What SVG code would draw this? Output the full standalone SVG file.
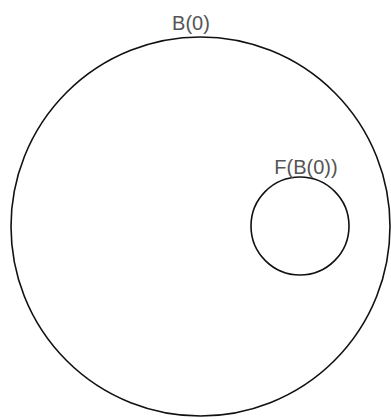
<svg xmlns="http://www.w3.org/2000/svg" width="391" height="419" viewBox="0 0 391 419">
<style>
.c{fill:none;stroke:#111;stroke-width:1.6}
.t{font-family:"Liberation Sans",Arial,sans-serif;font-size:20px;fill:#555;text-anchor:middle}
</style>
<rect width="391" height="419" fill="#fff"/>
<g id="B0">
<circle class="c" cx="200.5" cy="226.5" r="189.5"/>
<text class="t" x="191" y="30">B(0)</text>
</g>
<g id="FB0">
<circle class="c" cx="300" cy="226" r="49"/>
<text class="t" x="306" y="174">F(B(0))</text>
</g>
<g id="connectors"/>
</svg>
